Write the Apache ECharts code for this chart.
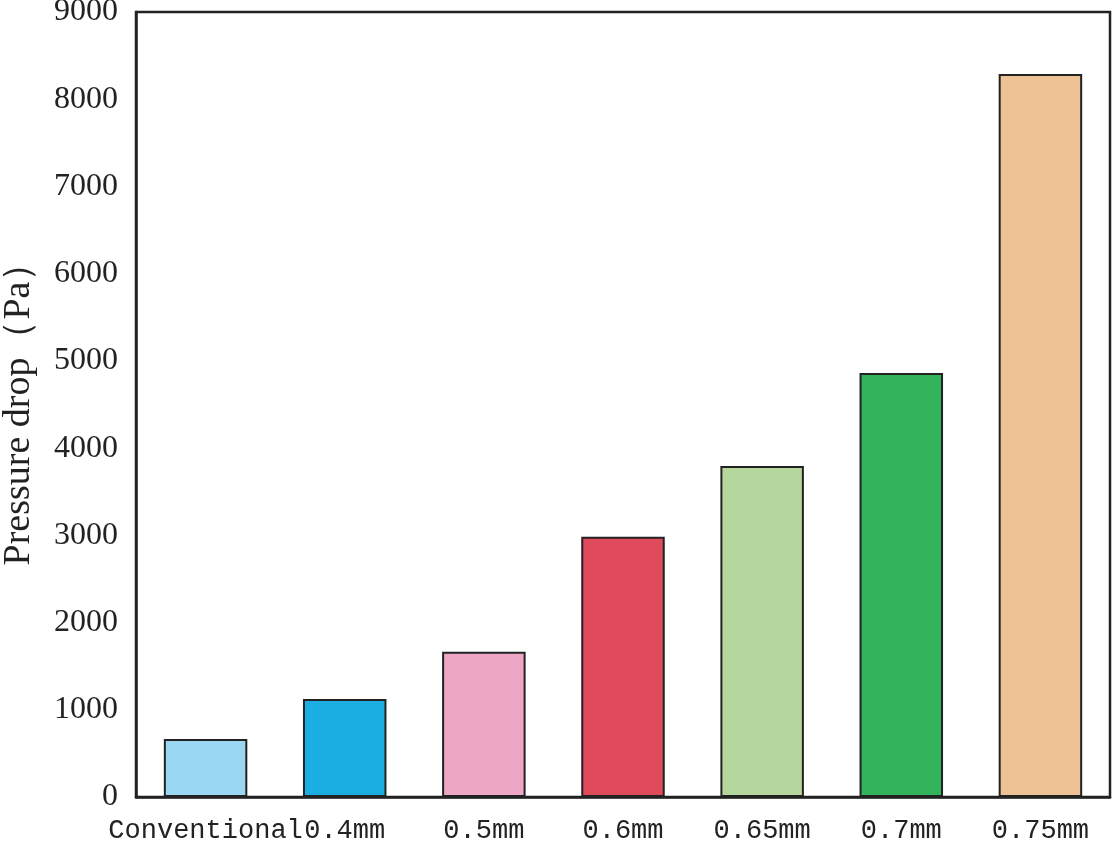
<!DOCTYPE html>
<html><head><meta charset="utf-8">
<script src="https://cdn.jsdelivr.net/npm/echarts@6/dist/echarts.min.js"></script>
<style>html,body{margin:0;padding:0;background:#fff}#c{width:1116px;height:845px}</style>
</head><body><div id="c"></div>
<script>
const categories = ['Conventional','0.4mm','0.5mm','0.6mm','0.65mm','0.7mm','0.75mm'];
const pressureDrop = [665, 1125, 1665, 2985, 3795, 4860, 8290];
const barColors = ['#9AD7F2','#1AAEE3','#EDA6C4','#E04B5C','#B5D69D','#33B45A','#EDC294'];
const yTicks = {min: 0, max: 9000, interval: 1000};

const chart = echarts.init(document.getElementById('c'));
chart.setOption({
  animation: false,
  grid: {left: 136, right: 6, top: 12, bottom: 48, containLabel: false, outerBoundsMode: 'none',
         show: true, borderColor: '#222', borderWidth: 2.5, backgroundColor: 'transparent'},
  xAxis: {
    type: 'category', data: categories,
    axisLine: {lineStyle: {color: '#222', width: 2.5}},
    axisTick: {show: false},
    axisLabel: {interval: 0, margin: 20, color: '#222', fontFamily: 'Liberation Mono', fontSize: 27}
  },
  yAxis: {
    type: 'value', min: yTicks.min, max: yTicks.max, interval: yTicks.interval,
    name: 'Pressure drop（Pa）', nameLocation: 'middle', nameGap: 98,
    nameTextStyle: {color: '#222', fontFamily: 'Liberation Serif', fontSize: 38},
    axisLine: {show: true, lineStyle: {color: '#222', width: 2.5}},
    axisTick: {show: false},
    splitLine: {show: false},
    axisLabel: {margin: 18, color: '#222', fontFamily: 'Liberation Serif', fontSize: 32,
                formatter: v => String(v)}
  },
  series: [{
    type: 'bar',
    data: pressureDrop.map((v, i) => ({value: v, itemStyle: {color: barColors[i]}})),
    barWidth: '60%',
    itemStyle: {borderColor: '#222', borderWidth: 2}
  }]
});
</script></body></html>
